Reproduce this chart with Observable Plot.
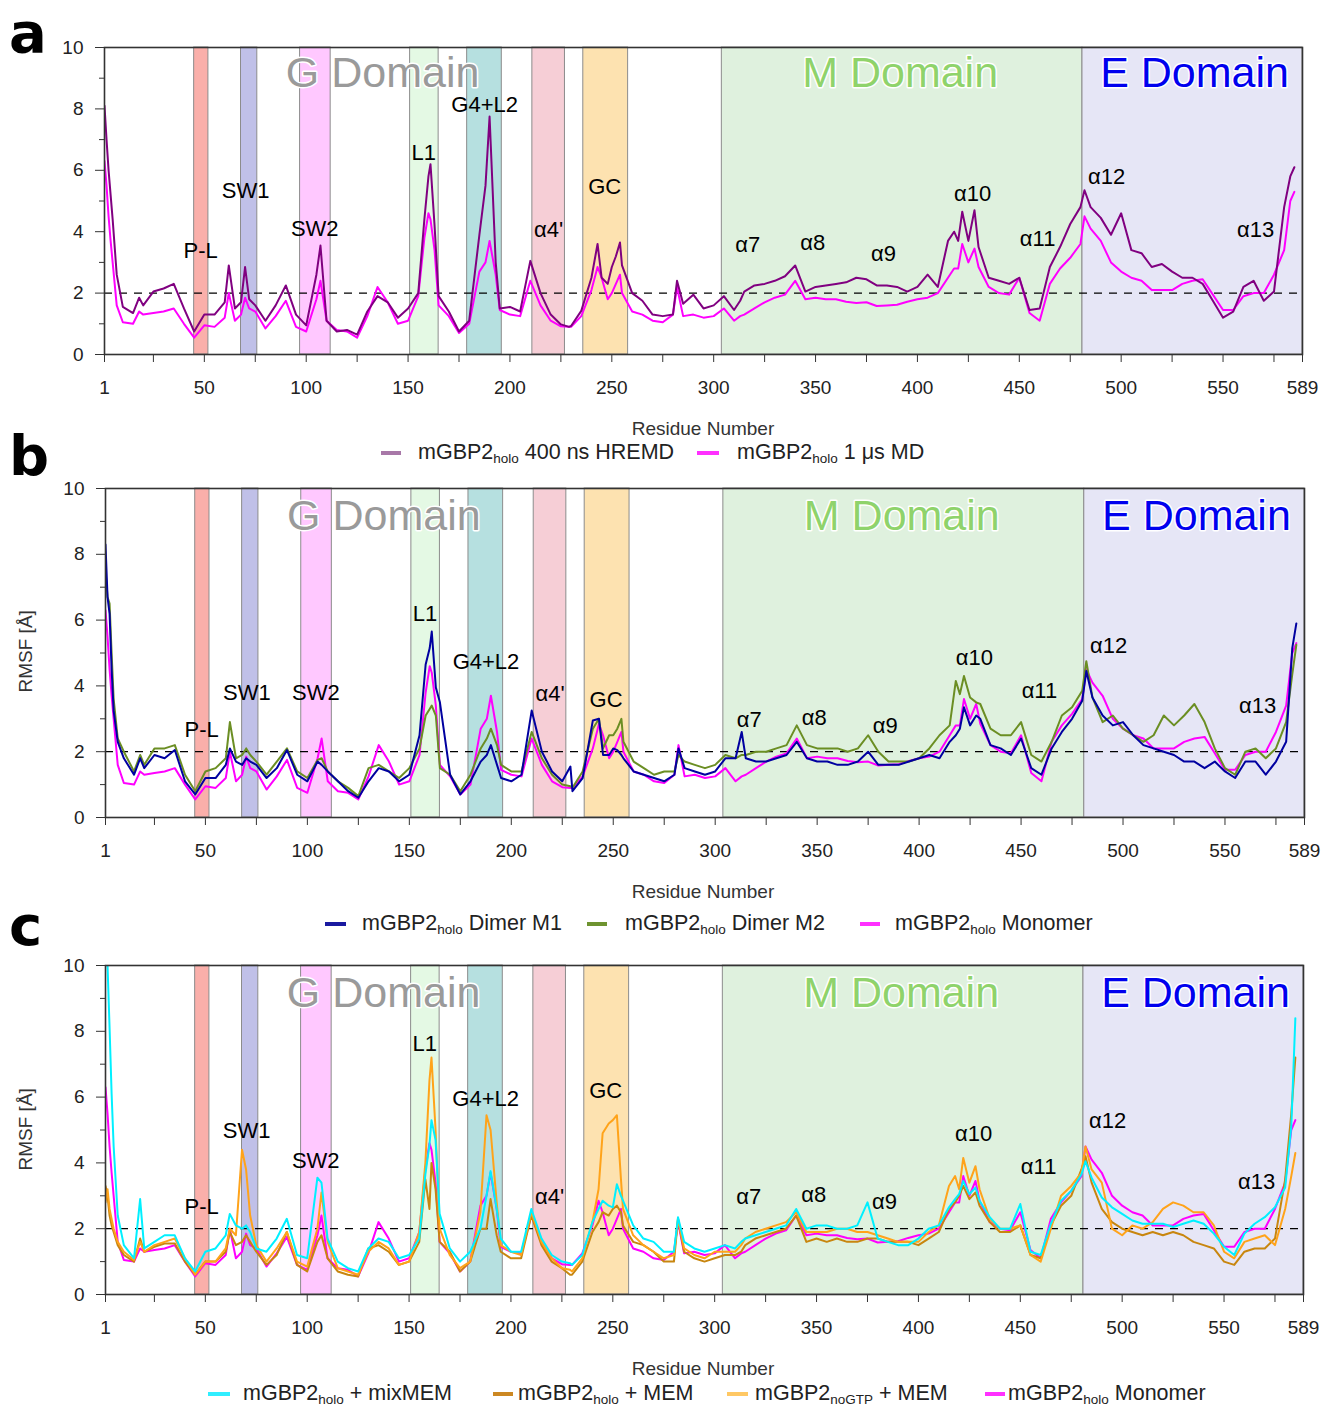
<!DOCTYPE html>
<html><head><meta charset="utf-8">
<script src="https://cdn.jsdelivr.net/npm/d3@7"></script>
<script src="https://cdn.jsdelivr.net/npm/@observablehq/plot@0.6"></script>
<style>
body{margin:0;background:#fff;}
#root{position:relative;width:1322px;height:1409px;font-family:"Liberation Sans",Arial,sans-serif;color:#222;overflow:hidden;}
.panel{position:absolute;left:0;}
.letter{position:absolute;font-family:"DejaVu Sans","Liberation Sans",sans-serif;font-weight:bold;font-size:56px;line-height:1;color:#000;}
.xlab{position:absolute;left:104px;width:1198px;text-align:center;font-size:19px;line-height:1;color:#333;}
.ylab{position:absolute;font-size:19px;line-height:1;color:#333;transform:rotate(-90deg);transform-origin:center;white-space:nowrap;}
.sw{position:absolute;height:4px;}
.lt{position:absolute;font-size:21.5px;line-height:1;white-space:nowrap;color:#222;}
.lt sub{font-size:13.5px;vertical-align:-4px;line-height:0;}
</style>
</head><body>
<div id="root"></div>
<script>
// ---------------- data ----------------
const residues = [
1,2,3,4,5,7,10,15,18,20,
25,30,35,40,45,50,55,60,62,65,
68,70,72,75,80,85,90,95,100,105,
107,110,115,120,125,130,135,140,145,150,
155,158,160,161,163,165,170,175,180,185,
188,190,193,195,200,205,210,215,220,225,
229,230,235,240,243,245,248,250,252,254,
255,260,265,270,275,280,282,285,290,295,
300,305,310,313,315,320,325,330,335,340,
345,350,355,360,365,370,375,380,385,390,
395,400,405,410,415,418,420,422,425,428,
430,435,440,445,450,455,460,465,470,475,
480,482,485,490,495,500,505,510,515,520,
525,530,535,540,545,550,555,560,565,570,
575,580,583,585];

const hremd = [
8.1,7.0,6.0,5.2,4.4,2.6,1.55,1.35,1.85,1.6,
2.05,2.15,2.3,1.5,0.75,1.3,1.3,1.7,2.9,1.5,
1.7,2.85,1.8,1.6,1.1,1.6,2.25,1.3,0.95,2.6,
3.55,1.1,0.75,0.8,0.65,1.4,1.9,1.7,1.2,1.5,
2.0,4.4,5.8,6.2,4.2,1.9,1.4,0.75,1.1,3.9,
5.5,7.75,3.0,1.5,1.55,1.4,3.05,2.0,1.3,0.98,
0.9,0.93,1.42,2.5,3.6,2.5,2.3,2.85,3.2,3.65,
2.9,2.0,1.75,1.3,1.25,1.3,2.4,1.65,1.95,1.5,
1.6,1.9,1.45,1.75,2.05,2.25,2.3,2.4,2.55,2.9,
2.05,2.2,2.25,2.3,2.35,2.5,2.45,2.25,2.25,2.2,
2.05,2.2,2.6,2.2,3.7,4.0,3.7,4.65,3.7,4.7,
3.5,2.5,2.4,2.3,2.5,1.45,1.5,2.85,3.5,4.25,
4.8,5.35,4.8,4.45,3.9,4.6,3.4,3.3,2.85,2.95,
2.7,2.5,2.5,2.3,1.75,1.2,1.4,2.2,2.4,1.75,
2.05,4.8,5.8,6.1];

const monomer = [
6.3,5.5,4.5,3.7,3.0,1.6,1.05,1.0,1.4,1.3,
1.35,1.4,1.5,1.0,0.55,0.95,0.9,1.2,2.0,1.1,
1.3,1.85,1.5,1.4,0.85,1.25,1.75,0.9,0.75,1.8,
2.4,1.1,0.8,0.75,0.55,1.25,2.2,1.7,1.0,1.1,
1.9,3.8,4.6,4.4,3.4,1.6,1.25,0.7,1.0,2.7,
3.0,3.7,2.6,1.45,1.3,1.25,2.4,1.6,1.1,0.92,
0.9,0.9,1.25,2.1,2.85,2.5,1.8,2.0,2.3,2.6,
2.0,1.4,1.3,1.1,1.05,1.3,2.2,1.25,1.3,1.2,
1.25,1.5,1.1,1.25,1.3,1.5,1.7,1.85,1.95,2.4,
1.8,1.85,1.8,1.8,1.72,1.68,1.7,1.58,1.6,1.62,
1.72,1.8,1.85,2.0,2.5,2.8,2.8,3.6,3.0,3.45,
2.85,2.2,2.0,1.95,2.5,1.35,1.1,2.3,2.8,3.15,
3.6,4.5,4.1,3.7,3.0,2.7,2.5,2.4,2.1,2.1,
2.1,2.3,2.4,2.45,1.95,1.45,1.45,1.9,2.0,2.0,
2.6,3.4,5.0,5.3];

const dimerM1 = [
8.3,6.7,6.2,4.5,3.24,2.3,1.8,1.3,1.8,1.5,
1.9,1.8,2.05,1.1,0.7,1.2,1.2,1.6,2.1,1.7,
1.6,1.8,1.7,1.6,1.2,1.5,2.05,1.3,1.1,1.7,
1.6,1.4,1.1,0.8,0.6,1.1,1.5,1.4,1.1,1.3,
2.5,4.65,5.15,5.65,3.95,3.5,1.3,0.7,1.1,1.7,
1.9,2.2,1.6,1.2,1.1,1.3,3.25,2.0,1.4,1.1,
1.55,0.8,1.2,2.95,3.0,1.9,1.9,2.1,2.05,1.9,
1.8,1.4,1.3,1.2,1.1,1.3,2.1,1.5,1.4,1.3,
1.4,1.8,1.8,2.6,1.8,1.7,1.7,1.8,1.9,2.3,
1.8,1.7,1.7,1.6,1.6,1.7,2.0,1.6,1.6,1.6,
1.7,1.8,1.9,1.8,2.3,2.5,2.7,3.35,2.8,3.1,
3.0,2.2,2.1,1.9,2.4,1.5,1.3,2.1,2.6,3.0,
3.55,4.45,3.65,3.1,2.8,2.9,2.5,2.2,2.1,2.0,
1.9,1.7,1.7,1.5,1.7,1.4,1.2,1.7,1.7,1.3,
1.7,2.3,5.15,5.9];

const dimerM2 = [
7.5,6.7,6.5,5.0,3.6,2.4,2.0,1.4,1.9,1.6,
2.1,2.1,2.2,1.3,0.8,1.4,1.5,1.8,2.9,1.8,
1.9,2.1,1.9,1.7,1.3,1.7,2.1,1.4,1.2,1.75,
1.8,1.4,1.1,0.9,0.65,1.5,1.6,1.4,1.2,1.5,
2.1,3.1,3.3,3.4,3.1,1.5,1.3,0.8,1.3,2.1,
2.4,2.7,2.2,1.6,1.4,1.4,2.6,1.8,1.3,1.0,
0.95,0.9,1.4,2.7,3.0,2.1,2.5,2.5,2.7,3.0,
2.3,1.7,1.5,1.3,1.4,1.4,1.9,1.7,1.6,1.5,
1.6,1.9,1.8,1.9,1.9,2.0,2.0,2.1,2.2,2.8,
2.2,2.1,2.1,2.1,2.0,2.1,2.5,2.0,1.7,1.7,
1.7,1.8,2.1,2.5,2.8,4.15,3.75,4.3,3.65,3.5,
3.45,2.7,2.5,2.5,2.9,1.9,1.7,2.3,3.1,3.35,
3.85,4.75,3.65,2.9,3.1,2.7,2.5,2.3,2.5,3.1,
2.8,3.1,3.45,2.9,2.1,1.5,1.3,2.0,2.1,1.8,
2.1,2.9,4.35,5.25];

const mixMEM = [
10.5,10.0,8.1,6.1,4.5,2.4,1.5,1.1,2.9,1.4,
1.6,1.8,1.8,1.1,0.7,1.3,1.4,1.8,2.45,2.1,
2.0,2.1,1.9,1.4,1.3,1.7,2.3,1.2,1.1,3.55,
3.4,1.7,1.0,0.8,0.7,1.4,1.7,1.6,1.1,1.2,
1.7,3.65,4.55,5.3,4.7,2.45,1.4,1.0,1.3,2.0,
3.0,3.75,2.6,1.7,1.3,1.3,2.6,1.7,1.2,1.0,
0.95,0.9,1.2,2.2,2.6,2.85,2.7,2.65,3.35,3.0,
2.85,2.1,1.7,1.6,1.3,1.3,2.35,1.6,1.4,1.3,
1.4,1.5,1.4,1.6,1.7,1.8,1.9,2.0,2.1,2.6,
2.0,2.1,2.1,2.0,2.0,2.1,2.8,1.7,1.6,1.5,
1.5,1.7,2.0,2.1,2.65,2.9,3.05,3.45,3.05,3.25,
2.85,2.35,2.0,2.0,2.75,1.3,1.2,2.15,2.85,3.15,
3.65,4.05,3.55,2.95,2.65,2.45,2.25,2.15,2.15,2.15,
2.05,2.15,2.25,2.15,1.85,1.45,1.2,1.85,2.15,2.35,
2.65,3.25,5.1,8.4];

const holoMEM = [
3.3,3.0,2.4,2.1,1.9,1.5,1.2,1.0,1.7,1.3,
1.45,1.55,1.55,1.0,0.6,1.0,1.0,1.3,1.9,1.5,
1.6,1.8,1.6,1.3,0.9,1.2,1.9,0.9,0.7,1.6,
1.8,1.1,0.7,0.6,0.55,1.4,1.5,1.3,0.9,1.0,
1.6,3.5,2.6,4.0,3.2,1.6,1.3,0.7,1.0,2.0,
2.0,2.9,1.8,1.3,1.1,1.1,2.4,1.5,1.0,0.8,
0.6,0.6,1.0,1.9,2.2,2.5,2.4,2.6,2.7,2.5,
2.1,1.6,1.5,1.3,1.0,1.0,2.3,1.3,1.1,1.0,
1.1,1.2,1.2,1.3,1.5,1.7,1.8,1.9,2.0,2.4,
1.6,1.7,1.6,1.7,1.6,1.6,1.7,1.7,1.6,1.6,
1.6,1.5,1.7,1.9,2.6,2.8,3.0,3.3,2.9,3.1,
2.7,2.2,1.9,1.9,2.1,1.2,1.1,2.1,2.7,3.0,
3.8,4.2,3.4,2.6,2.2,2.0,1.9,1.8,1.9,1.8,
1.9,1.8,1.6,1.5,1.4,1.0,0.9,1.3,1.4,1.4,
1.7,3.5,5.5,7.2];

const noGTPMEM = [
2.8,3.2,2.6,2.3,2.0,1.6,1.3,1.05,1.6,1.3,
1.5,1.6,1.7,1.1,0.6,1.0,1.0,1.4,2.0,1.8,
4.4,3.8,2.4,1.5,1.0,1.4,1.9,1.0,0.85,2.0,
3.1,1.6,0.8,0.7,0.6,1.3,1.6,1.4,0.9,1.0,
1.9,4.0,6.5,7.2,5.0,2.0,1.2,0.8,1.0,2.5,
5.45,5.0,2.8,1.5,1.3,1.2,2.5,1.6,1.1,0.8,
0.75,0.7,1.1,2.2,3.2,4.9,5.2,5.3,5.45,3.5,
2.6,1.8,1.5,1.3,1.1,1.2,2.3,1.4,1.2,1.1,
1.3,1.3,1.3,1.5,1.7,1.9,2.0,2.1,2.2,2.5,
1.9,1.9,1.9,2.0,2.0,1.9,1.9,1.8,1.7,1.6,
1.6,1.6,1.9,2.1,3.3,3.6,3.2,4.15,3.4,3.9,
3.2,2.3,2.0,2.0,2.1,1.2,1.0,2.0,3.0,3.3,
3.7,4.5,3.8,3.4,2.0,1.8,2.1,2.0,2.2,2.6,
2.8,2.7,2.5,2.5,2.1,1.3,1.1,1.6,1.7,1.8,
1.5,2.6,3.6,4.3];

const xTickMarks = [1,25,50,75,100,125,150,175,200,225,250,275,300,325,350,375,400,425,450,475,500,525,550,575,589];
const xTickLabels = [1,50,100,150,200,250,300,350,400,450,500,550,589];
const yMajorTicks = [0,2,4,6,8,10];
const yMinorTicks = [1,3,5,7,9];

const bandNames  = ["P-L","SW1","SW2","L1","G4+L2","α4'","GC","M Domain","E Domain"];
const bandStart  = [45,68,97,151,179,211,236,304,481];
const bandEnd    = [52,76,112,165,196,227,258,481,589];
const bandColors = ["#faafaa","#c0c0e8","#ffc8ff","#e4f9e4","#b6e0e0","#f6ced6","#fde2b0","#dff1de","#e6e6f6"];

const domainNames  = ["G Domain","M Domain","E Domain"];
const domainX      = [137.5,391.5,536];
const domainColors = ["#9a9a9a","#8fd36b","#0000ee"];

const regionLabels = ["P-L","SW1","SW2","L1","G4+L2","α4'","GC","α7","α8","α9","α10","α11","α12","α13"];
const regionX  = [48.2,70.3,104.2,157.7,187.6,219,246.5,316.7,348.6,383.4,427.1,459,492.9,566];
const regionYa = [3.38,5.34,4.10,6.55,8.13,4.07,5.47,3.58,3.64,3.28,5.24,3.77,5.77,4.07];
const regionYb = [2.66,3.78,3.78,6.19,4.73,3.76,3.58,2.97,3.03,2.79,4.85,3.85,5.21,3.38];
const regionYc = [2.66,4.97,4.06,7.61,5.94,2.98,6.19,2.98,3.04,2.80,4.87,3.87,5.27,3.42];

// ---------------- drawing ----------------
const root = document.getElementById("root");
const idx = arr => arr.map((_, i) => i);

function makePanel(cfg) {
  const marks = [
    Plot.rect(idx(bandNames), {x1: i => bandStart[i], x2: i => bandEnd[i], y1: 0, y2: 10,
      fill: i => bandColors[i], stroke: "#8c8c8c", strokeWidth: 1}),
    Plot.text(idx(domainNames), {x: i => domainX[i], y: 9.15, text: i => domainNames[i],
      fill: i => domainColors[i], fontSize: 43, stroke: "#ffffff", strokeWidth: 3, paintOrder: "stroke"}),
    Plot.ruleY([2], {stroke: "#000", strokeWidth: 1.3, strokeDasharray: "8,7"})
  ];
  cfg.series.forEach(s => {
    marks.push(Plot.line(s.values.map((v, i) => ({r: residues[i], v})),
      {x: "r", y: "v", stroke: s.color, strokeWidth: 2, clip: true}));
  });
  marks.push(
    Plot.text(idx(regionLabels), {x: i => regionX[i], y: i => cfg.labelY[i], text: i => regionLabels[i],
      fontSize: 22, fill: "#000"}),
    Plot.frame({stroke: "#333", strokeWidth: 1.6}),
    Plot.axisY({ticks: yMajorTicks, tickSize: 9, tickPadding: 12, label: null, stroke: "#333", fill: "#222", fontSize: 19}),
    Plot.axisY({ticks: yMinorTicks, tickSize: 5, tickFormat: () => "", label: null, stroke: "#333"}),
    Plot.axisX({ticks: xTickMarks, tickSize: 8, tickFormat: () => "", label: null, stroke: "#333"}),
    Plot.axisX({ticks: xTickLabels, tickSize: 0, tickPadding: 26, label: null, fill: "#222", fontSize: 19})
  );
  const svg = Plot.plot({
    width: 1322, height: cfg.height,
    marginLeft: cfg.ml, marginRight: cfg.mr, marginTop: cfg.mt, marginBottom: cfg.mb,
    x: {domain: [1, 589]}, y: {domain: [0, 10]},
    color: {type: "identity"},
    style: {fontFamily: "'Liberation Sans', Arial, sans-serif", fontSize: "19px", background: "transparent", overflow: "visible"},
    marks
  });
  const wrap = document.createElement("div");
  wrap.className = "panel";
  wrap.style.top = cfg.top + "px";
  wrap.appendChild(svg);
  root.appendChild(wrap);
}

makePanel({top: 0, height: 404, ml: 104, mr: 20, mt: 47, mb: 50, labelY: regionYa,
  series: [{values: monomer, color: "#ff00ff"}, {values: hremd, color: "#800080"}]});
makePanel({top: 440, height: 427, ml: 105, mr: 18, mt: 48, mb: 50, labelY: regionYb,
  series: [{values: monomer, color: "#ff00ff"}, {values: dimerM2, color: "#6b8e23"}, {values: dimerM1, color: "#0000a0"}]});
makePanel({top: 917, height: 427, ml: 105, mr: 19, mt: 48, mb: 50, labelY: regionYc,
  series: [{values: monomer, color: "#ff00ff"}, {values: holoMEM, color: "#c8860f"}, {values: noGTPMEM, color: "#ffa31a"}, {values: mixMEM, color: "#00f0ff"}]});

function addHTML(html) { root.insertAdjacentHTML("beforeend", html); }
// panel letters
addHTML('<div class="letter" style="left:9px;top:5px">a</div>');
addHTML('<div class="letter" style="left:9px;top:428px">b</div>');
addHTML('<div class="letter" style="left:9px;top:898px">c</div>');
// x labels
addHTML('<div class="xlab" style="top:419px">Residue Number</div>');
addHTML('<div class="xlab" style="top:882px">Residue Number</div>');
addHTML('<div class="xlab" style="top:1359px">Residue Number</div>');
// y labels
addHTML('<div class="ylab" style="left:-15px;top:643px;width:80px;text-align:center">RMSF [Å]</div>');
addHTML('<div class="ylab" style="left:-15px;top:1121px;width:80px;text-align:center">RMSF [Å]</div>');

// legends
const legends = [
  {y: 453, items: [
    {sx: 381, sw: 20, tx: 418, color: "#a878a8", html: "mGBP2<sub>holo</sub> 400 ns HREMD"},
    {sx: 697, sw: 22, tx: 737, color: "#ff30ff", html: "mGBP2<sub>holo</sub> 1 μs MD"}]},
  {y: 924, items: [
    {sx: 325, sw: 21, tx: 362, color: "#1a1aa0", html: "mGBP2<sub>holo</sub> Dimer M1"},
    {sx: 587, sw: 20, tx: 625, color: "#6e9330", html: "mGBP2<sub>holo</sub> Dimer M2"},
    {sx: 860, sw: 20, tx: 895, color: "#ff30ff", html: "mGBP2<sub>holo</sub> Monomer"}]},
  {y: 1394, items: [
    {sx: 208, sw: 22, tx: 243, color: "#30eeff", html: "mGBP2<sub>holo</sub> + mixMEM"},
    {sx: 493, sw: 20, tx: 518, color: "#cc8822", html: "mGBP2<sub>holo</sub> + MEM"},
    {sx: 727, sw: 21, tx: 755, color: "#ffc864", html: "mGBP2<sub>noGTP</sub> + MEM"},
    {sx: 985, sw: 20, tx: 1008, color: "#ff30ff", html: "mGBP2<sub>holo</sub> Monomer"}]}
];
legends.forEach(l => l.items.forEach(it => {
  addHTML(`<div class="sw" style="left:${it.sx}px;top:${l.y - 2}px;width:${it.sw}px;background:${it.color}"></div>`);
  addHTML(`<div class="lt" style="left:${it.tx}px;top:${l.y - 11}px">${it.html}</div>`);
}));
</script>
</body></html>
